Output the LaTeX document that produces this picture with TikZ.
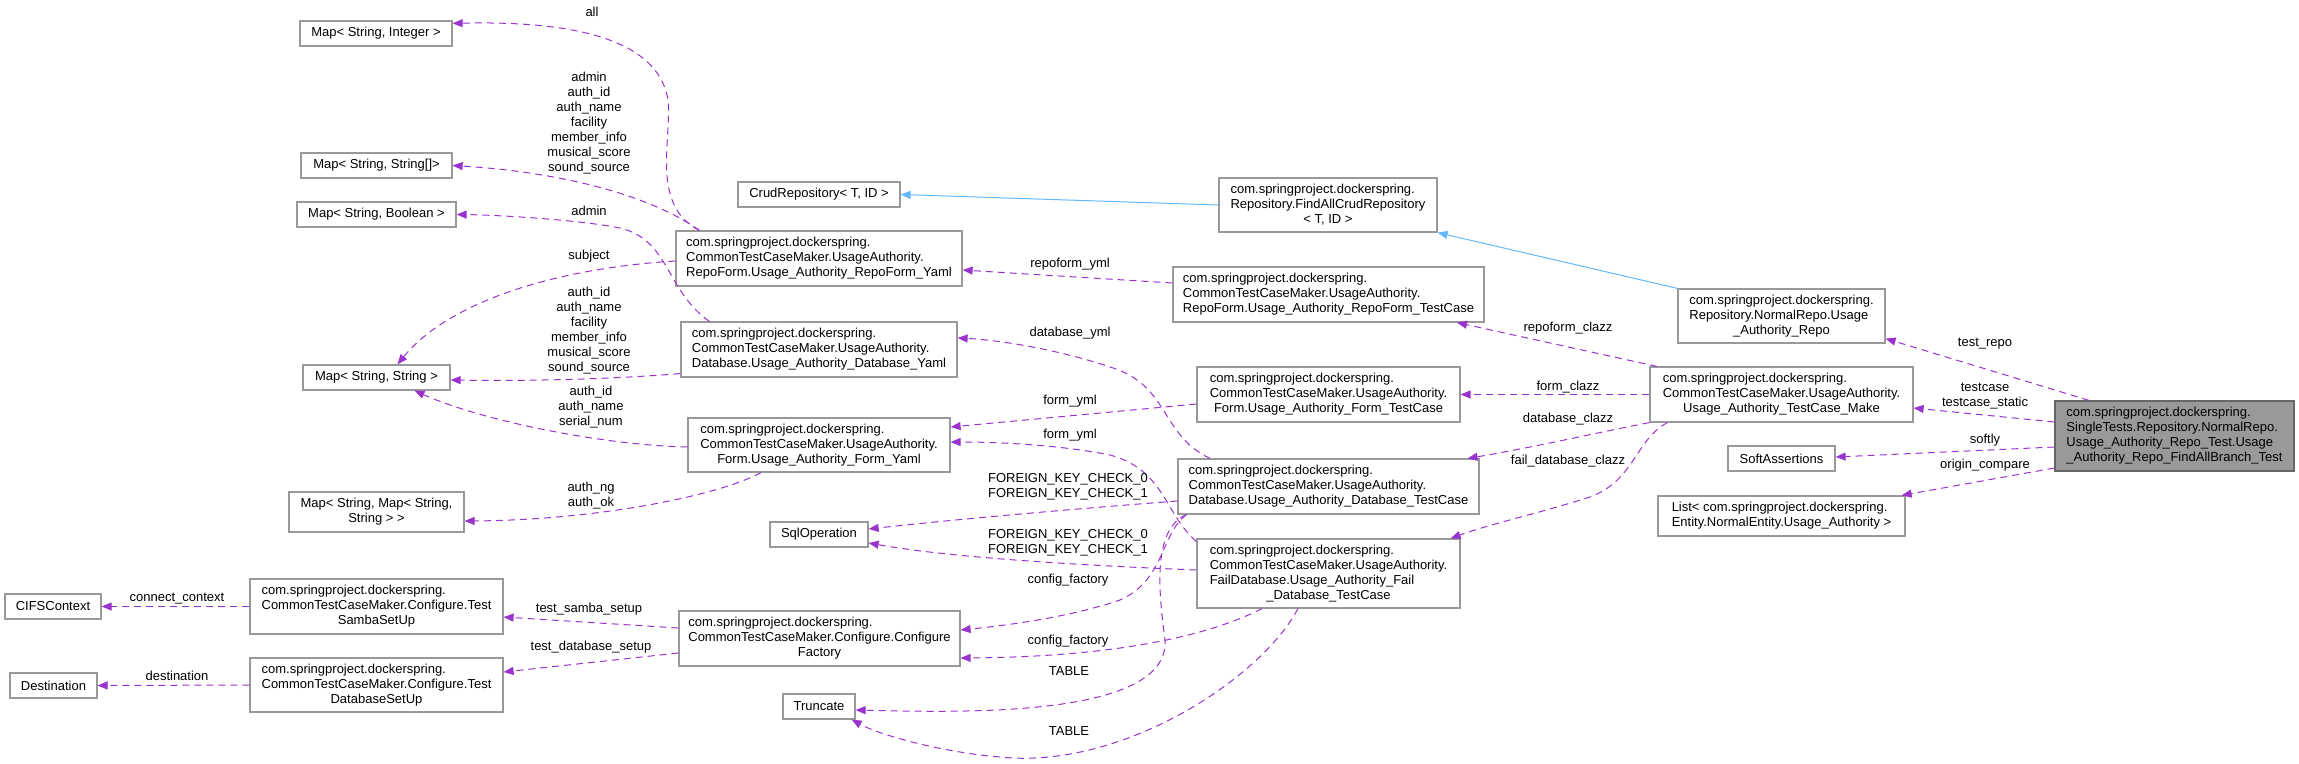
\documentclass[tikz,border=0pt]{standalone}
\usepackage{fontspec}
\setmainfont{Liberation Sans}
\usetikzlibrary{arrows.meta,calc}
\definecolor{edgepurple}{HTML}{9A32CD}
\definecolor{inhblue}{HTML}{63B8FF}
\definecolor{boxgray}{HTML}{999999}
\definecolor{boxdark}{HTML}{666666}
\newcommand{\dgfont}{\fontsize{13}{15}\selectfont}
\newcommand{\clsname}[2]{\begin{tabular}{@{}l@{}}#1\\\multicolumn{1}{@{}c@{}}{#2}\end{tabular}}
\tikzset{
    cls/.style={rectangle, draw=boxgray, line width=1.2pt, fill=white, inner sep=0pt, align=center, font=\dgfont},
    cur/.style={cls, fill=boxgray, draw=boxdark},
    use/.style={-{Triangle[length=10pt,width=8pt]}, edgepurple, dash pattern=on 7pt off 5pt, line width=1pt},
    inh/.style={-{Triangle[length=10pt,width=8pt]}, inhblue, line width=1pt},
    lbl/.style={font=\dgfont, align=center, inner sep=0pt}
}

\begin{document}
\begin{tikzpicture}[x=1pt, y=-1pt]
\useasboundingbox (0,0) rectangle (2299,763);

% Column 1: maps and setup classes
\node[cls, minimum width=152pt, minimum height=25pt] (mapint) at (376,33.5) {Map< String, Integer >};
\node[cls, minimum width=151pt, minimum height=25pt] (mapsarr) at (376.5,165.5) {Map< String, String[]>};
\node[cls, minimum width=159pt, minimum height=25pt] (mapbool) at (376.5,214.5) {Map< String, Boolean >};
\node[cls, minimum width=147pt, minimum height=25pt] (mapstr) at (376.5,377.5) {Map< String, String >};
\node[cls, minimum width=175pt, minimum height=40pt] (mapmap) at (376.5,512) {\clsname{Map< String, Map< String,}{String > >}};
\node[cls, minimum width=96pt, minimum height=25pt] (cifs) at (53,606.5) {CIFSContext};
\node[cls, minimum width=87pt, minimum height=25pt] (dest) at (53.5,685.5) {Destination};
\node[cls, minimum width=253pt, minimum height=55pt] (samba) at (376.5,606.5) {\clsname{com.springproject.dockerspring.\\CommonTestCaseMaker.Configure.Test}{SambaSetUp}};
\node[cls, minimum width=253pt, minimum height=54pt] (dbsetup) at (376.5,685) {\clsname{com.springproject.dockerspring.\\CommonTestCaseMaker.Configure.Test}{DatabaseSetUp}};

% Column 2: yaml forms and helpers
\node[cls, minimum width=162pt, minimum height=25pt] (crud) at (819,194.5) {CrudRepository< T, ID >};
\node[cls, minimum width=286pt, minimum height=55pt] (rfyaml) at (819,258.5) {\clsname{com.springproject.dockerspring.\\CommonTestCaseMaker.UsageAuthority.}{RepoForm.Usage\_Authority\_RepoForm\_Yaml}};
\node[cls, minimum width=276pt, minimum height=55pt] (dbyaml) at (819,349.5) {\clsname{com.springproject.dockerspring.\\CommonTestCaseMaker.UsageAuthority.}{Database.Usage\_Authority\_Database\_Yaml}};
\node[cls, minimum width=262pt, minimum height=54pt] (fyaml) at (819,445) {\clsname{com.springproject.dockerspring.\\CommonTestCaseMaker.UsageAuthority.}{Form.Usage\_Authority\_Form\_Yaml}};
\node[cls, minimum width=98pt, minimum height=25pt] (sqlop) at (819,534.5) {SqlOperation};
\node[cls, minimum width=281pt, minimum height=55pt] (cfgfac) at (819.5,638.5) {\clsname{com.springproject.dockerspring.\\CommonTestCaseMaker.Configure.Configure}{Factory}};
\node[cls, minimum width=72pt, minimum height=25pt] (trunc) at (819,706.5) {Truncate};

% Column 3: test cases
\node[cls, minimum width=218pt, minimum height=54pt] (findall) at (1328,205) {\clsname{com.springproject.dockerspring.\\Repository.FindAllCrudRepository}{< T, ID >}};
\node[cls, minimum width=311pt, minimum height=55pt] (rftc) at (1328.5,294.5) {\clsname{com.springproject.dockerspring.\\CommonTestCaseMaker.UsageAuthority.}{RepoForm.Usage\_Authority\_RepoForm\_TestCase}};
\node[cls, minimum width=263pt, minimum height=55pt] (ftc) at (1328.5,394.5) {\clsname{com.springproject.dockerspring.\\CommonTestCaseMaker.UsageAuthority.}{Form.Usage\_Authority\_Form\_TestCase}};
\node[cls, minimum width=301pt, minimum height=55pt] (dbtc) at (1328.5,486.5) {\clsname{com.springproject.dockerspring.\\CommonTestCaseMaker.UsageAuthority.}{Database.Usage\_Authority\_Database\_TestCase}};
\node[cls, minimum width=263pt, minimum height=69pt] (faildb) at (1328.5,573.5) {\clsname{com.springproject.dockerspring.\\CommonTestCaseMaker.UsageAuthority.\\FailDatabase.Usage\_Authority\_Fail}{\_Database\_TestCase}};

% Column 4: members of the test
\node[cls, minimum width=207pt, minimum height=54pt] (normrepo) at (1781.5,316) {\clsname{com.springproject.dockerspring.\\Repository.NormalRepo.Usage}{\_Authority\_Repo}};
\node[cls, minimum width=263pt, minimum height=55pt] (tcmake) at (1781.5,394.5) {\clsname{com.springproject.dockerspring.\\CommonTestCaseMaker.UsageAuthority.}{Usage\_Authority\_TestCase\_Make}};
\node[cls, minimum width=107pt, minimum height=25pt] (softa) at (1781.5,458.5) {SoftAssertions};
\node[cls, minimum width=247pt, minimum height=40pt] (list) at (1781.5,516) {\clsname{List< com.springproject.dockerspring.}{Entity.NormalEntity.Usage\_Authority >}};

% The documented class
\node[cur, minimum width=239pt, minimum height=70pt] (main) at (2174.5,436) {\clsname{com.springproject.dockerspring.\\SingleTests.Repository.NormalRepo.\\Usage\_Authority\_Repo\_Test.Usage}{\_Authority\_Repo\_FindAllBranch\_Test}};

% Inheritance
\draw[inh] (findall.west) -- (crud.east);
\draw[inh] (normrepo.north west) -- (findall.south east);

% Usage edges of the test class
\draw[use] ([xshift=-85.5pt]main.north) -- ([yshift=5pt]normrepo.south east);
\draw[use] ([yshift=14pt]main.west) -- ([yshift=-13.5pt]tcmake.east);
\draw[use] ([yshift=-11pt]main.west) -- ([yshift=1.5pt]softa.east);
\draw[use] ([yshift=-32pt]main.west) -- ([xshift=-4pt]list.north east);

% Test case maker
\draw[use] ([xshift=-124.5pt]tcmake.north) -- ([xshift=128.5pt]rftc.south);
\draw[use] (tcmake.west) -- (ftc.east);
\draw[use] (tcmake.south west) .. controls (1600,432) and (1530,448) .. ([xshift=-12pt]dbtc.north east);
\draw[use] ([xshift=18pt]tcmake.south west) .. controls (1635,440) and (1635,480) .. (1590,497) .. controls (1540,513) and (1490,524) .. ([xshift=-10pt]faildb.north east);

% Test cases to yaml forms
\draw[use] ([yshift=11.5pt]rftc.west) -- ([yshift=-11.5pt]rfyaml.east);
\draw[use] ([xshift=-118.5pt]dbtc.north) .. controls (1160,435) and (1170,385) .. (1110,367) .. controls (1060,350) and (1000,340) .. ([yshift=11.5pt]dbyaml.east);
\draw[use] ([yshift=-9.5pt]ftc.west) -- ([yshift=18pt]fyaml.east);
\draw[use] ([yshift=-3pt]faildb.north west) .. controls (1165,515) and (1165,470) .. (1110,455) .. controls (1060,445) and (1000,442) .. ([yshift=3pt]fyaml.east);

% Test cases to helpers
\draw[use] ([yshift=-14.5pt]dbtc.west) .. controls (1060,510) and (950,520) .. ([yshift=5.5pt]sqlop.east);
\draw[use] ([yshift=3.5pt]faildb.west) .. controls (1000,562) and (920,552) .. ([yshift=-8.5pt]sqlop.east);
\draw[use] ([xshift=9pt]dbtc.south west) .. controls (1160,535) and (1165,580) .. (1120,600) .. controls (1070,617) and (1010,625) .. ([yshift=8.5pt]cfgfac.east);
\draw[use] ([xshift=-66.5pt]faildb.south) .. controls (1200,640) and (1100,657) .. ([yshift=-19.5pt]cfgfac.east);
\draw[use] ([xshift=9pt]dbtc.south west) .. controls (1150,530) and (1160,600) .. (1165,640) .. controls (1170,720) and (950,712) .. ([yshift=-3.5pt]trunc.east);
\draw[use] ([xshift=-30.5pt]faildb.south) .. controls (1260,680) and (1120,770) .. (1000,757) .. controls (940,752) and (880,735) .. ([xshift=-4pt]trunc.south east);

% Configure factory
\draw[use] ([yshift=10.5pt]cfgfac.west) -- ([yshift=-10.5pt]samba.east);
\draw[use] ([yshift=-14.5pt]cfgfac.west) -- ([yshift=13pt]dbsetup.east);
\draw[use] (samba.west) -- (cifs.east);
\draw[use] (dbsetup.west) -- (dest.east);

% Yaml forms to maps
\draw[use] ([xshift=24pt]rfyaml.north west) .. controls (650,205) and (672,140) .. (668,100) .. controls (660,50) and (600,20) .. ([yshift=-3pt]mapint.north east);
\draw[use] ([xshift=24pt]rfyaml.north west) .. controls (650,195) and (560,172) .. (mapsarr.east);
\draw[use] ([yshift=-2.5pt]rfyaml.west) .. controls (560,268) and (450,300) .. ([xshift=21pt]mapstr.north);
\draw[use] ([xshift=29pt]dbyaml.north west) .. controls (665,290) and (670,240) .. (620,228) .. controls (580,220) and (500,215) .. (mapbool.east);
\draw[use] ([yshift=4pt]dbyaml.south west) .. controls (600,380) and (520,381) .. ([yshift=-2.5pt]mapstr.east);
\draw[use] ([yshift=-2pt]fyaml.west) .. controls (600,445) and (480,420) .. ([xshift=38pt]mapstr.south);
\draw[use] ([xshift=-58pt]fyaml.south) .. controls (720,495) and (600,520) .. ([yshift=-9pt]mapmap.east);

% Edge labels
\node[lbl] (lall) at (592,12) {all};
\node[lbl] (lsarr) at (589,123) {admin\\auth\_id\\auth\_name\\facility\\member\_info\\musical\_score\\sound\_source};
\node[lbl] (ladmin) at (589,211) {admin};
\node[lbl] (lsubject) at (589,256) {subject};
\node[lbl] (lmapstr) at (589,331) {auth\_id\\auth\_name\\facility\\member\_info\\musical\_score\\sound\_source};
\node[lbl] (lserial) at (591,407.5) {auth\_id\\auth\_name\\serial\_num};
\node[lbl] (lauthok) at (591,495.5) {auth\_ng\\auth\_ok};
\node[lbl] (lconnect) at (177,599) {connect\_context};
\node[lbl] (ldest) at (177,676) {destination};
\node[lbl] (lsamba) at (589,609) {test\_samba\_setup};
\node[lbl] (ldbsetup) at (591,647) {test\_database\_setup};
\node[lbl] (lrfyml) at (1070,264) {repoform\_yml};
\node[lbl] (ldbyml) at (1070,333) {database\_yml};
\node[lbl] (lfyml) at (1070,401) {form\_yml};
\node[lbl] (lfyml2) at (1070,435) {form\_yml};
\node[lbl] (lfkc) at (1068,486.5) {FOREIGN\_KEY\_CHECK\_0\\FOREIGN\_KEY\_CHECK\_1};
\node[lbl] (lfkc2) at (1068,542.5) {FOREIGN\_KEY\_CHECK\_0\\FOREIGN\_KEY\_CHECK\_1};
\node[lbl] (lcfg) at (1068,580) {config\_factory};
\node[lbl] (lcfg2) at (1068,641) {config\_factory};
\node[lbl] (ltable) at (1069,671) {TABLE};
\node[lbl] (ltable2) at (1069,731) {TABLE};
\node[lbl] (lrfclazz) at (1568,328) {repoform\_clazz};
\node[lbl] (lfclazz) at (1568,387) {form\_clazz};
\node[lbl] (ldbclazz) at (1568,419) {database\_clazz};
\node[lbl] (lfailclazz) at (1568,461) {fail\_database\_clazz};
\node[lbl] (lrepo) at (1985,344) {test\_repo};
\node[lbl] (ltestcase) at (1985,396.5) {testcase\\testcase\_static};
\node[lbl] (lsoftly) at (1985,440) {softly};
\node[lbl] (lorigin) at (1985,465) {origin\_compare};

\end{tikzpicture}
\end{document}
